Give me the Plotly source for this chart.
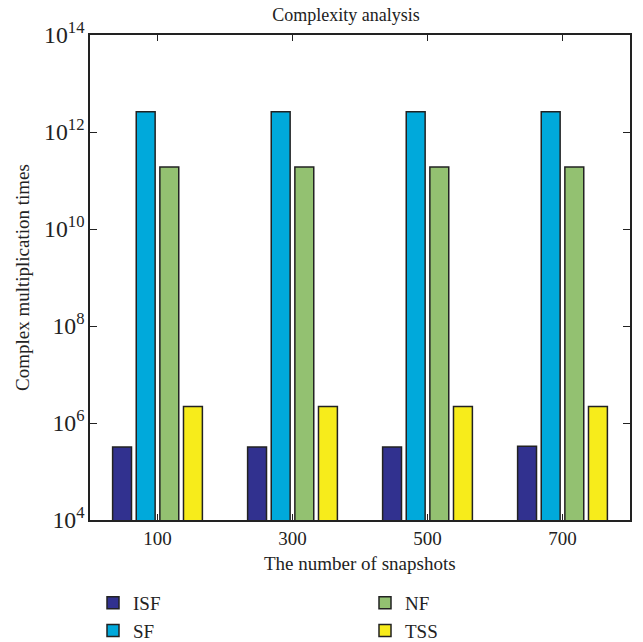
import plotly.graph_objects as go

categories = ["100", "300", "500", "700"]
isf = [3.2e5, 3.2e5, 3.2e5, 3.3e5]
sf = [2.6e12, 2.6e12, 2.6e12, 2.6e12]
nf = [1.9e11, 1.9e11, 1.9e11, 1.9e11]
tss = [2.2e6, 2.2e6, 2.2e6, 2.2e6]

series = [
    ("ISF", isf, "#31318f", "legend", 1),
    ("SF", sf, "#00a9db", "legend", 2),
    ("NF", nf, "#93c171", "legend2", 1),
    ("TSS", tss, "#f7ec1b", "legend2", 2),
]

x_title = "The number of snapshots"
y_title = "Complex multiplication times"
font_family = "Liberation Serif"

fig = go.Figure()
for name, vals, color, leg, rank in series:
    fig.add_trace(go.Bar(
        x=categories, y=vals, name=name,
        marker=dict(color=color, line=dict(color="#222222", width=1.5)),
        legend=leg, legendrank=rank,
    ))

fig.update_layout(
    width=643, height=642,
    margin=dict(l=90, r=13, t=35, b=122, autoexpand=False),
    paper_bgcolor="white", plot_bgcolor="white",
    font=dict(family=font_family, size=18, color="#222222"),
    barmode="group", bargap=0.3, bargroupgap=0.2,
    title=dict(text="Complexity analysis", x=0.538, xanchor="center",
               y=0.977, yanchor="middle", font=dict(size=18)),
    showlegend=True,
    legend=dict(x=93 / 643, y=(642 - 584) / 642, xref="container", yref="container",
                xanchor="left", yanchor="top",
                orientation="v", font=dict(size=19), tracegroupgap=0,
                itemwidth=30, bgcolor="rgba(0,0,0,0)"),
    legend2=dict(x=365 / 643, y=(642 - 584) / 642, xref="container", yref="container",
                 xanchor="left", yanchor="top",
                 orientation="v", font=dict(size=19), tracegroupgap=0,
                 itemwidth=30, bgcolor="rgba(0,0,0,0)"),
    annotations=[
        dict(text=y_title, textangle=-90, xref="paper", yref="paper",
             x=-0.125, y=0.5, xanchor="center", yanchor="middle",
             showarrow=False, font=dict(size=19)),
        dict(text=x_title, xref="paper", yref="paper",
             x=0.5, y=-0.09, xanchor="center", yanchor="middle",
             showarrow=False, font=dict(size=19)),
    ],
)

fig.update_xaxes(
    showline=True, linecolor="#222222", linewidth=1.5, mirror="ticks",
    ticks="inside", ticklen=6, tickcolor="#222222",
    tickfont=dict(size=19), showgrid=False, range=[-0.5, 3.5],
)
fig.update_yaxes(
    type="log", range=[4, 14], dtick=2, exponentformat="power",
    showline=True, linecolor="#222222", linewidth=1.5, mirror="ticks",
    ticks="inside", ticklen=7, tickcolor="#222222",
    tickfont=dict(size=19), showgrid=False,
)

fig.write_html("out.html")
